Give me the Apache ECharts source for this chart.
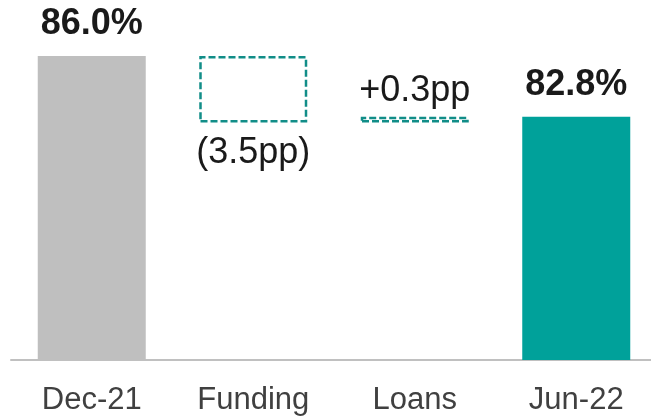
<!DOCTYPE html>
<html lang="en">

<head>
    <meta charset="utf-8">
    <style>
        html, body { margin: 0; padding: 0; background: #fff; overflow: hidden; }
    </style>
</head>

<body>
    <div id="main" style="width: 660px;height:416px;"></div>
    <script src="https://cdn.jsdelivr.net/npm/echarts@6/dist/echarts.min.js"></script>
    <script type="text/javascript">
    // data
    var categories = ['Dec-21', 'Funding', 'Loans', 'Jun-22'];
    var baseValues = [0, 82.5, 82.5, 0];
    var barValues = [86.0, 3.5, 0.3, 82.8];
    var barLabels = ['86.0%', '(3.5pp)', '+0.3pp', '82.8%'];

    var teal = '#00a19a';
    var grey = '#bfbfbf';

    var items = barValues.map(function (v, i) {
        var isTotal = (i === 0 || i === 3);
        return {
            value: v,
            itemStyle: isTotal ? {
                color: i === 0 ? grey : teal
            } : {
                color: 'rgba(0,0,0,0)',
                borderColor: '#118d88',
                borderWidth: 2.5,
                borderType: [7, 3]
            },
            label: {
                show: true,
                position: i === 1 ? 'bottom' : 'top',
                distance: isTotal ? 14 : (i === 1 ? 13 : 8),
                formatter: barLabels[i],
                fontSize: 36,
                fontWeight: isTotal ? 'bold' : 'normal',
                color: '#1a1a1a',
                fontFamily: 'Liberation Sans, Arial, sans-serif'
            }
        };
    });

    // chart div is a bit wider than the window so the last band runs off the edge
    var myChart = echarts.init(document.getElementById('main'));
    myChart.setOption({
        animation: false,
        grid: {
            left: 11,
            right: 3,
            top: 18,
            bottom: 55
        },
        xAxis: {
            type: 'category',
            data: categories,
            axisLine: { lineStyle: { color: '#c0c0c0', width: 2 } },
            axisTick: { show: false },
            axisLabel: {
                fontSize: 31,
                color: '#404040',
                margin: 25,
                fontFamily: 'Liberation Sans, Arial, sans-serif'
            }
        },
        yAxis: {
            type: 'value',
            min: 70,
            max: 88,
            show: false,
            splitLine: { show: false }
        },
        series: [{
            type: 'bar',
            stack: 'w',
            data: baseValues,
            barWidth: 108,
            itemStyle: { color: 'rgba(0,0,0,0)' },
            silent: true
        }, {
            type: 'bar',
            stack: 'w',
            data: items,
            barWidth: 108
        }]
    });
    </script>
</body>

</html>
